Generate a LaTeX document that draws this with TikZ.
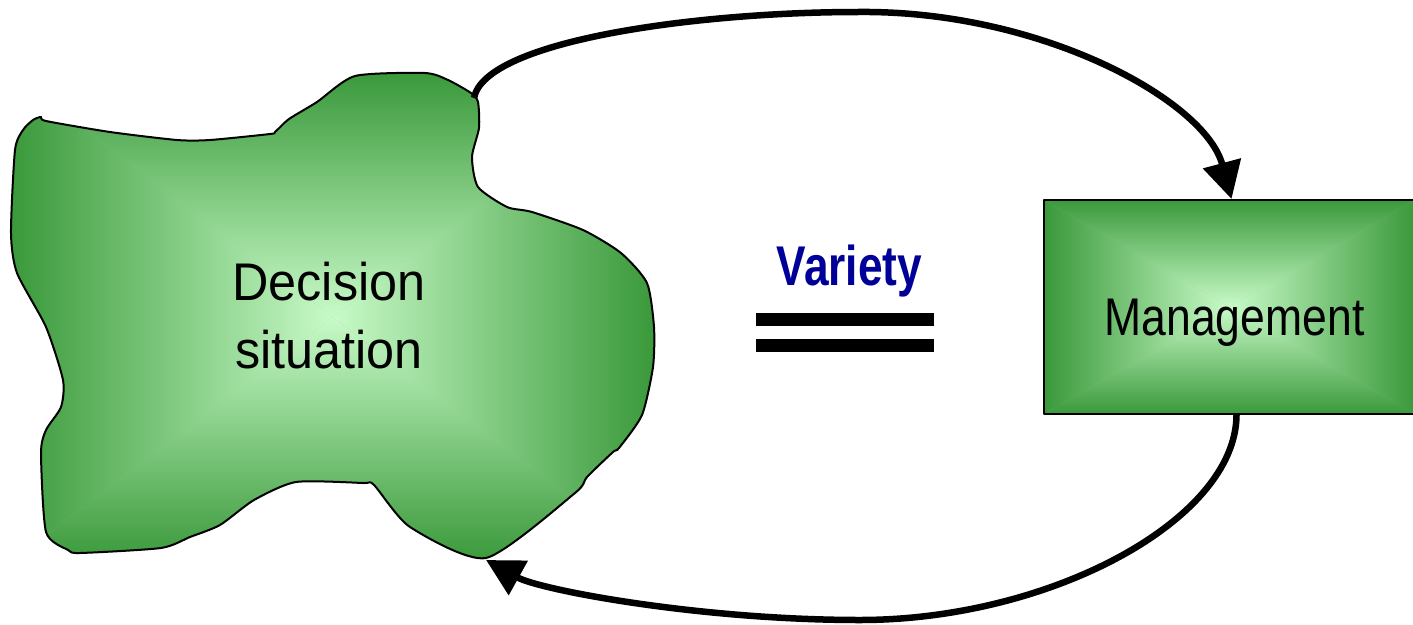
\documentclass[tikz,border=0pt]{standalone}
\usepackage{fontspec}
\setmainfont{Liberation Sans}
\usetikzlibrary{arrows.meta}
\definecolor{dk}{RGB}{58,153,58}
\definecolor{lt}{RGB}{200,250,200}
\definecolor{md}{RGB}{128,200,128}
\definecolor{vblue}{RGB}{0,0,153}
\tikzset{
  pyramid/.style={path picture={
    \coordinate (pnw) at (path picture bounding box.north west);
    \coordinate (pne) at (path picture bounding box.north east);
    \coordinate (psw) at (path picture bounding box.south west);
    \coordinate (pse) at (path picture bounding box.south east);
    \coordinate (pc) at (path picture bounding box.center);
    \fill[md] (pnw) rectangle (pse);
    \shade[top color=dk,bottom color=lt] (pnw) -- (pne) -- (pc) -- cycle;
    \shade[bottom color=dk,top color=lt] (psw) -- (pse) -- (pc) -- cycle;
    \shade[left color=dk,right color=lt] (pnw) -- (psw) -- (pc) -- cycle;
    \shade[right color=dk,left color=lt] (pne) -- (pse) -- (pc) -- cycle;
  }},
  flow/.style={line width=6.5pt, -{Triangle[length=37pt,width=38pt]}},
  outline/.style={draw=black, line width=2pt, line join=round},
}
\begin{document}
\begin{tikzpicture}[x=1pt,y=-1pt]
\clip (0,0) rectangle (1413,624);
\fill[white] (0,0) rectangle (1413,624);

% decision situation blob
\path[outline, pyramid] plot[smooth cycle, tension=0.4] coordinates {
 (41,117) (46,121) (110,132) (177,140) (210,140) (270,134) (275,132) (289,119)
 (317,102) (355,76) (425,73) (448,80) (471,93) (478,102) (479,128) (472,157)
 (478,187) (507,207) (532,212) (583,230) (621,253) (647,283) (654,327) (653,367)
 (642,415) (619,448) (613,452) (587,477) (575,493) (486,558) (410,527) (374,485)
 (363,483) (296,482) (254,500) (220,525) (190,537) (161,548) (80,553) (68,550)
 (46,532) (41,453) (46,430) (61,407) (63,380) (46,327) (17,273) (11,233)
 (15,150) (23,130) (33,120)};
\coordinate (blobtop) at (474,98);
\coordinate (blobbot) at (486,560);
\node[align=center, font=\fontsize{53}{68}\selectfont, xscale=0.95, inner sep=0pt]
  (dec) at (329,315.5) {Decision\\situation};

% management box
\node[outline, pyramid, minimum width=371pt, minimum height=214pt, inner sep=0pt,
  anchor=north west] (mgmt) at (1043,199)
  {\fontsize{53}{60}\selectfont\hspace*{10pt}\raisebox{-28pt}[0pt][0pt]{\scalebox{0.84}[1]{Management}}};

% variety
\node[font=\fontsize{56}{60}\selectfont\bfseries, text=vblue, xscale=0.79,
  anchor=base, inner sep=0pt] (variety) at (849.5,285) {Variety};
\fill (756,313) rectangle (934,326);
\fill (756,339) rectangle (934,352);

% connectors
\draw[flow] (blobtop) .. controls (485,40) and (700,12) .. (858,12)
  .. controls (1040,10) and (1205,100) .. ([xshift=2pt]mgmt.north);
\draw[flow] ([xshift=7pt]mgmt.south) .. controls (1236,520) and (1050,620) .. (860,620)
  .. controls (700,620) and (540,590) .. (blobbot);
\end{tikzpicture}
\end{document}
